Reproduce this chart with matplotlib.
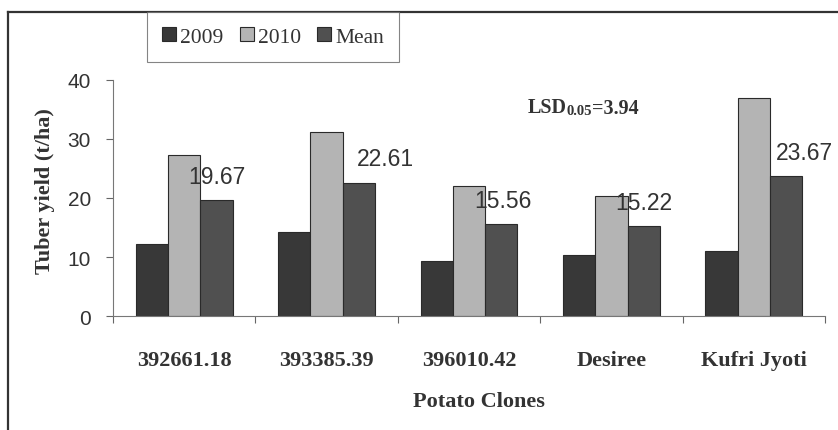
import matplotlib
matplotlib.use('Agg')
import matplotlib.pyplot as plt
import numpy as np

# Tuber yield of potato clones, two seasons and their mean
clones = ['392661.18', '393385.39', '396010.42', 'Desiree', 'Kufri Jyoti']
yield_2009 = [12.2, 14.3, 9.4, 10.3, 11.1]
yield_2010 = [27.3, 31.1, 22.0, 20.4, 36.9]
yield_mean = [19.67, 22.61, 15.56, 15.22, 23.67]
series_names = ['2009', '2010', 'Mean']
lsd_value = 3.94

# label nudges (points) so the mean labels sit like the original
label_dx = [0, 19, 1, 0, 13]

W, H = 838, 431
fig = plt.figure(figsize=(W / 100, H / 100), dpi=100)
fig.patch.set_facecolor('white')

ax = fig.add_axes([113 / W, 1 - 317.3 / H, 712 / W, 236.6 / H])

x = np.arange(len(clones))
w = 0.227
colors = ['#383838', '#b4b4b4', '#505050']
bars = []
for k, vals in enumerate([yield_2009, yield_2010, yield_mean]):
    b = ax.bar(x + (k - 1) * w, vals, w, color=colors[k], edgecolor='#2a2a2a',
               linewidth=0.8, label=series_names[k], zorder=2)
    bars.append(b)

# mean value labels
for i, v in enumerate(yield_mean):
    ax.annotate(f'{v:.2f}', xy=(x[i] + w, v), xytext=(label_dx[i], 17),
                textcoords='offset points', ha='center', va='center',
                fontsize=16.5, family='Liberation Sans', color='#333333')

ax.set_xlim(-0.5, len(clones) - 0.5)
ax.set_ylim(0, 40)
ax.set_yticks([0, 10, 20, 30, 40])
ax.tick_params(axis='y', direction='out', length=5, width=0.8, color='#666666',
               pad=11, labelsize=15, labelcolor='#333333')
for lab in ax.get_yticklabels():
    lab.set_family('Liberation Sans')

ax.set_xticks(np.arange(len(clones) + 1) - 0.5)
ax.set_xticklabels([])
ax.set_xticks(x, minor=True)
ax.set_xticklabels(clones, minor=True, fontsize=16, family='Liberation Serif',
                   fontweight='bold', color='#333333')
ax.tick_params(axis='x', which='major', direction='out', length=5, width=0.8,
               color='#666666')
ax.tick_params(axis='x', which='minor', length=0, pad=24)

for s in ['top', 'right']:
    ax.spines[s].set_visible(False)
for s in ['left', 'bottom']:
    ax.spines[s].set_color('#777777')
    ax.spines[s].set_linewidth(0.8)

# LSD annotation with small 0.05
t1 = ax.text(2.41, 35.4, 'LSD', fontsize=14.5, family='Liberation Serif',
             fontweight='bold', color='#333333', va='center', ha='left')
t2 = ax.annotate('0.05', xy=(1, 0), xycoords=t1, va='bottom', ha='left',
                 fontsize=10.5, family='Liberation Serif', fontweight='bold',
                 color='#333333')
ax.annotate(f'={lsd_value:.2f}', xy=(1, 0), xycoords=t2, va='bottom', ha='left',
            fontsize=14.5, family='Liberation Serif', fontweight='bold',
            color='#333333', xytext=(0, -0.5), textcoords='offset points')

fig.text(45 / W, 1 - 191 / H, 'Tuber yield (t/ha)', rotation=90, ha='center',
         va='center', fontsize=16, family='Liberation Serif', fontweight='bold',
         color='#333333')
fig.text(479 / W, 1 - 402 / H, 'Potato Clones', ha='center', va='center',
         fontsize=16, family='Liberation Serif', fontweight='bold',
         color='#333333')

leg = fig.legend(handles=bars, labels=series_names, ncol=3, loc='upper left',
                 bbox_to_anchor=(147 / W, 1 - 13 / H), frameon=True,
                 fancybox=False, edgecolor='#666666', handlelength=0.65,
                 handleheight=0.65, handletextpad=0.2, columnspacing=0.75,
                 borderpad=0.7, borderaxespad=0,
                 prop={'family': 'Liberation Serif', 'size': 15.5})
leg.get_frame().set_linewidth(0.8)
for t in leg.get_texts():
    t.set_color('#333333')

# outer frame of the scanned figure
fig.add_artist(plt.Line2D([8 / W, 8 / W], [0, 1 - 13 / H], transform=fig.transFigure,
                          color='#333333', linewidth=1.6))
fig.add_artist(plt.Line2D([8 / W, 1], [1 - 13 / H, 1 - 13 / H], transform=fig.transFigure,
                          color='#333333', linewidth=1.6))

fig.savefig('out.png', dpi=100)
